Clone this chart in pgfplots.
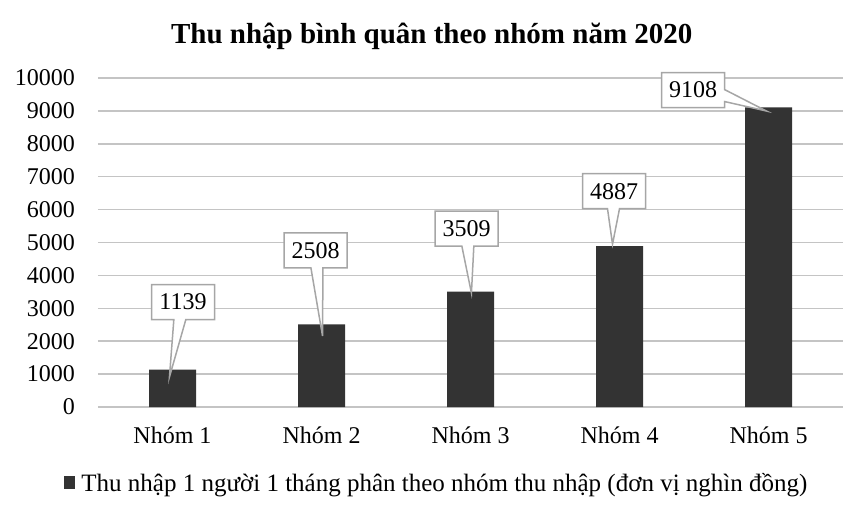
\documentclass[border=0pt]{standalone}
\usepackage{fontspec}
\setmainfont{Liberation Serif}
\usepackage{pgfplots}
\usepackage{pgfplotstable}
\pgfplotsset{compat=1.18}
\usetikzlibrary{shapes.callouts}

\definecolor{barc}{HTML}{333333}
\definecolor{gridc}{HTML}{C4C4C4}
\definecolor{boxc}{HTML}{A6A6A6}

% x, value, label box offset (dx,dy) and callout pointer (px,py), in pt
\pgfplotstableread{
x y dx dy px py
0 1139 10.5 67.5 -10.4 -57.5
1 2508 -6 74 5.6 -68
2 3509 -4 63 3.6 -47
3 4887 -5.5 55 -1 -35.5
4 9108 -75.5 17.3 42 -12
}\incometable

\begin{document}
\begin{tikzpicture}
\begin{axis}[
    name=ax,
    scale only axis,
    width=745pt, height=329pt,
    xmin=-0.5, xmax=4.5,
    ymin=0, ymax=10000,
    ytick distance=1000,
    xtick={0,1,2,3,4},
    xticklabels={Nhóm 1,Nhóm 2,Nhóm 3,Nhóm 4,Nhóm 5},
    scaled y ticks=false,
    /pgf/number format/1000 sep={},
    /pgf/number format/assume math mode=true,
    axis line style={draw=none},
    major tick length=0pt,
    ymajorgrids,
    major grid style={gridc, line width=1.5pt},
    tick label style={font=\fontsize{24}{28}\selectfont},
    yticklabel style={anchor=east, inner sep=0pt, xshift=-23pt},
    xticklabel style={anchor=base, inner sep=0pt, yshift=-36pt},
    title={Thu nhập bình quân theo nhóm năm 2020},
    title style={at={(0.448,1.107)}, anchor=center,
        font=\bfseries\fontsize{29}{33}\selectfont},
    legend style={at={(0.455,-0.231)}, anchor=center, draw=none, fill=none,
        font=\fontsize{25}{29}\selectfont,
        /tikz/every odd column/.append style={column sep=4pt}},
    clip=false,
]
\addplot[
    ybar, bar width=47pt, fill=barc, draw=none,
    legend image code/.code={\fill[barc] (0pt,-6pt) rectangle (11pt,7pt);},
    visualization depends on={\thisrow{dx} \as \dx},
    visualization depends on={\thisrow{dy} \as \dy},
    visualization depends on={\thisrow{px} \as \px},
    visualization depends on={\thisrow{py} \as \py},
    nodes near coords,
    nodes near coords style={
        rectangle callout, anchor=center,
        callout relative pointer={({\px*1pt},{\py*1pt})},
        callout pointer width=12pt,
        xshift=\dx pt, yshift=\dy pt,
        draw=boxc, line width=1.5pt, fill=white, text=black,
        minimum width=63pt, minimum height=35pt, inner sep=0pt,
        font=\fontsize{24}{28}\selectfont,
    },
] table[x=x, y=y] {\incometable};
\addlegendentry{Thu nhập 1 người 1 tháng phân theo nhóm thu nhập (đơn vị nghìn đồng)}
\end{axis}
\pgfresetboundingbox
\path[use as bounding box] ([shift={(-98pt,-109pt)}]ax.south west) rectangle ++(866pt,516pt);
\end{tikzpicture}
\end{document}
